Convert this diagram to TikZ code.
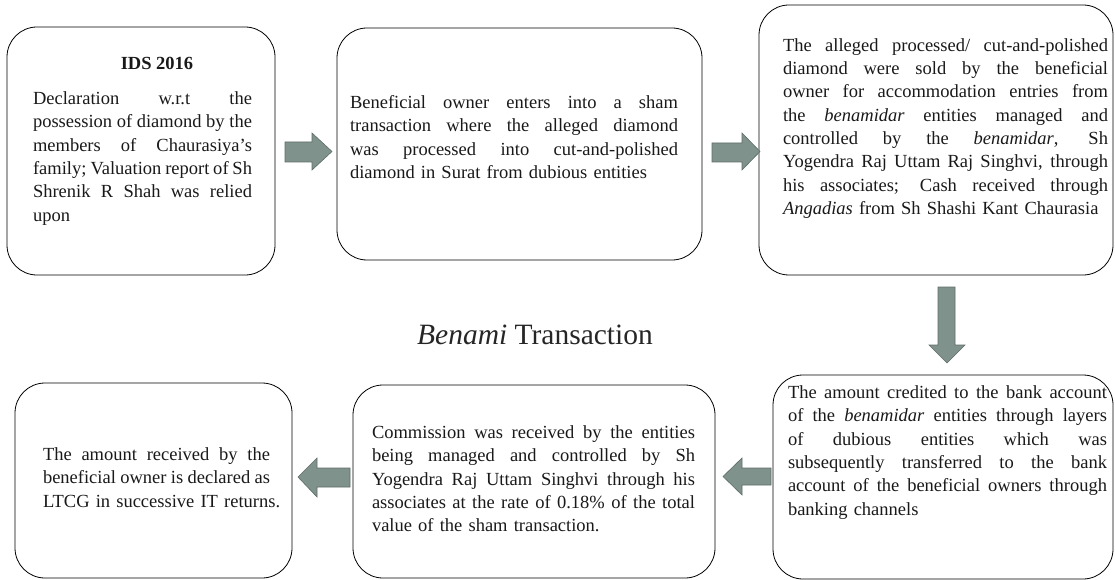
\documentclass[tikz,border=0pt]{standalone}
\usepackage{fontspec}
\setmainfont{Liberation Serif}
\newcommand{\J}[1]{\hbox to \hsize{\spaceskip=0.25em plus 3em minus 0.12em\relax #1}}
\newcommand{\Lst}[1]{\hbox{#1}}
\definecolor{arrowfill}{RGB}{128,146,140}
\definecolor{arrowdraw}{RGB}{95,108,104}
\definecolor{txt}{RGB}{25,25,25}
\begin{document}
\begin{tikzpicture}[x=1pt,y=-1pt,
  box/.style={draw=black,line width=0.8pt,rounded corners=30pt},
  body/.style={inner sep=0pt,align=left,text=txt,font=\fontsize{18.5}{23.3}\selectfont},
  blockarrow/.style={fill=arrowfill,draw=arrowdraw,line width=0.6pt,line join=miter}]
\useasboundingbox (0,0) rectangle (1115,580);
% boxes
\draw[box] (7,27) rectangle (275,275);
\draw[box] (337,28) rectangle (702,260);
\draw[box] (759,5) rectangle (1113,275);
\draw[box] (15,383) rectangle (292,578);
\draw[box] (353,385) rectangle (715,578);
\draw[box] (773,375) rectangle (1113,579);
% texts
\node[inner sep=0pt,text=txt,font=\fontsize{18.5}{23.3}\selectfont\bfseries] (h1) at (157,63) {IDS 2016};
\node[body,text width=219pt] (t1) at (142.5,158.5) {%
\J{Declaration w.r.t the}
\J{possession of diamond by the}
\J{members of Chaurasiya’s}
\J{family; Valuation report of Sh}
\J{Shrenik R Shah was relied}
\Lst{upon}};
\node[body,text width=328pt] (t2) at (514,137) {%
\J{Beneficial owner enters into a sham}
\J{transaction where the alleged diamond}
\J{was processed into cut-and-polished}
\Lst{diamond in Surat from dubious entities}};
\node[body,text width=325pt] (t3) at (945.5,128.5) {%
\J{The alleged processed/ cut-and-polished}
\J{diamond were sold by the beneficial}
\J{owner for accommodation entries from}
\J{the \textit{benamidar} entities managed and}
\J{controlled by the \textit{benamidar}, Sh}
\J{Yogendra Raj Uttam Raj Singhvi, through}
\J{his associates; Cash received through}
\Lst{\textit{Angadias} from Sh Shashi Kant Chaurasia}};
\node[body,text width=227pt] (t4) at (156.5,477.5) {%
\J{The amount received by the}
\J{beneficial owner is declared as}
\Lst{LTCG in successive IT returns.}};
\node[body,text width=323pt] (t5) at (533.5,479) {%
\J{Commission was received by the entities}
\J{being managed and controlled by Sh}
\J{Yogendra Raj Uttam Singhvi through his}
\J{associates at the rate of 0.18\% of the total}
\Lst{value of the sham transaction.}};
\node[body,text width=319pt] (t6) at (947.5,452.5) {%
\J{The amount credited to the bank account}
\J{of the \textit{benamidar} entities through layers}
\J{of dubious entities which was}
\J{subsequently transferred to the bank}
\J{account of the beneficial owners through}
\Lst{banking channels}};
% title
\node[inner sep=0pt,text=black!85,font=\fontsize{29.5}{31}\selectfont] (title) at (535,335) {\textit{Benami} Transaction};
% block arrows
\draw[blockarrow] (285,142) -- (312,142) -- (312,133) -- (332,151.5) -- (312,170) -- (312,162) -- (285,162) -- cycle;
\draw[blockarrow] (712,143) -- (742,143) -- (742,133) -- (760,151.5) -- (742,170) -- (742,162) -- (712,162) -- cycle;
\draw[blockarrow] (938,287) -- (938,345) -- (929,345) -- (947,363) -- (965,345) -- (955,345) -- (955,287) -- cycle;
\draw[blockarrow] (771,468) -- (742,468) -- (742,458) -- (723,476.5) -- (742,495) -- (742,485) -- (771,485) -- cycle;
\draw[blockarrow] (350,468) -- (317,468) -- (317,458) -- (298,477) -- (317,497) -- (317,487) -- (350,487) -- cycle;
\end{tikzpicture}
\end{document}
